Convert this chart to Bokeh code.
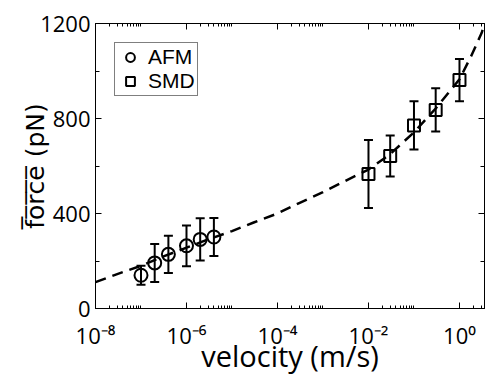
from bokeh.plotting import figure
from bokeh.models import (FixedTicker, LogAxis, LinearAxis, Whisker, TeeHead,
                          ColumnDataSource, Legend, LegendItem,
                          CustomJSTickFormatter)
from bokeh.embed import file_html
from bokeh.resources import INLINE

# ---------------- data ----------------
afm_velocity = [1e-7, 2e-7, 4e-7, 1e-6, 2e-6, 4e-6]
afm_force = [140, 192, 228, 264, 291, 301]
afm_error = [40, 80, 78, 86, 89, 80]

smd_velocity = [1e-2, 3e-2, 1e-1, 3e-1, 1.0]
smd_force = [566, 642, 771, 836, 962]
smd_error = [143, 86, 102, 91, 89]

fit_velocity = [1e-8, 3e-8, 1e-7, 3e-7, 1e-6, 3e-6, 1e-5, 3e-5, 1e-4, 3e-4,
                1e-3, 3e-3, 1e-2, 3e-2, 1e-1, 3e-1, 1.0, 1.8, 3.1, 3.6]
fit_force = [111, 145, 180, 218, 256, 291, 326, 362, 400, 444,
             490, 536, 585, 650, 742, 842, 965, 1062, 1162, 1205]

x_major_ticks = [1e-8, 1e-6, 1e-4, 1e-2, 1.0]
x_tick_labels = ["10\u207b\u2078", "10\u207b\u2076", "10\u207b\u2074",
                 "10\u207b\u00b2", "10\u2070"]
y_major_ticks = [0, 400, 800, 1200]
y_minor_ticks = [200, 600, 1000]

x_minor_ticks = [m * 10.0 ** e for e in (-8, -6, -4, -2) for m in range(2, 11)] + [2.0, 3.0]

FONT = "Open Sans"

p = figure(width=489, height=377, x_axis_type="log",
           x_range=(1e-8, 10 ** 0.55), y_range=(0, 1200),
           output_backend="svg", toolbar_location=None,
           min_border_left=95, min_border_right=5, min_border_top=23,
           min_border_bottom=68)
p.xgrid.visible = False
p.ygrid.visible = False
p.outline_line_color = "black"
p.outline_line_width = 1
p.background_fill_color = "white"
p.border_fill_color = "white"


def style_axis(ax, ticker, minor_len):
    ax.ticker = ticker
    ax.axis_line_color = "black"
    ax.axis_line_width = 1
    ax.major_tick_in = 6
    ax.major_tick_out = 0
    ax.minor_tick_in = minor_len
    ax.minor_tick_out = 0
    ax.major_tick_line_color = "black"
    ax.minor_tick_line_color = "black"
    ax.major_tick_line_width = 1
    ax.minor_tick_line_width = 1


# bottom axis
xa = p.xaxis[0]
style_axis(xa, FixedTicker(ticks=x_major_ticks, minor_ticks=x_minor_ticks), 3)
xa.major_label_overrides = dict(zip(x_major_ticks, x_tick_labels))
xa.major_label_text_font = FONT
xa.major_label_text_font_size = "22px"
xa.major_label_text_color = "black"
xa.major_label_standoff = 11
xa.axis_label = "velocity (m/s)"
xa.axis_label_text_font = FONT
xa.axis_label_text_font_size = "29px"
xa.axis_label_text_font_style = "normal"
xa.axis_label_text_color = "black"
xa.axis_label_standoff = -17

# left axis
ya = p.yaxis[0]
style_axis(ya, FixedTicker(ticks=y_major_ticks, minor_ticks=y_minor_ticks), 4)
ya.major_label_text_font = FONT
ya.major_label_text_font_size = "22px"
ya.major_label_text_color = "black"
ya.major_label_standoff = 5
ya.axis_label = "f\u0305o\u0305r\u0305c\u0305e\u0305 (pN)"
ya.axis_label_text_font = "DejaVu Sans"
ya.axis_label_text_font_size = "25px"
ya.axis_label_text_font_style = "normal"
ya.axis_label_text_color = "black"
ya.axis_label_standoff = -13

# mirrored axes (ticks only)
top = LogAxis()
style_axis(top, FixedTicker(ticks=x_major_ticks, minor_ticks=x_minor_ticks), 3)
top.formatter = CustomJSTickFormatter(code="return ''")
top.major_label_text_font_size = "1px"
top.major_label_standoff = 0
p.add_layout(top, "above")

right = LinearAxis()
style_axis(right, FixedTicker(ticks=y_major_ticks, minor_ticks=y_minor_ticks), 4)
right.formatter = CustomJSTickFormatter(code="return ''")
right.major_label_text_font_size = "1px"
right.major_label_standoff = 0
p.add_layout(right, "right")

# fit curve
p.line(fit_velocity, fit_force, line_color="black", line_width=2.5,
       line_dash="11 7")

# error bars
afm_src = ColumnDataSource(dict(
    x=afm_velocity, y=afm_force,
    lo=[f - e for f, e in zip(afm_force, afm_error)],
    hi=[f + e for f, e in zip(afm_force, afm_error)]))
smd_src = ColumnDataSource(dict(
    x=smd_velocity, y=smd_force,
    lo=[f - e for f, e in zip(smd_force, smd_error)],
    hi=[f + e for f, e in zip(smd_force, smd_error)]))
for src in (afm_src, smd_src):
    p.add_layout(Whisker(source=src, base="x", upper="hi", lower="lo",
                         dimension="height", line_width=2, line_color="black",
                         upper_head=TeeHead(size=9, line_width=2, line_color="black"),
                         lower_head=TeeHead(size=9, line_width=2, line_color="black")))

r_afm = p.scatter("x", "y", source=afm_src, marker="circle", size=13,
                  fill_color=None, line_color="black", line_width=2)
r_smd = p.scatter("x", "y", source=smd_src, marker="square", size=12,
                  fill_color=None, line_color="black", line_width=2)

legend = Legend(items=[LegendItem(label="AFM", renderers=[r_afm]),
                       LegendItem(label="SMD", renderers=[r_smd])],
                location="top_left", orientation="vertical",
                border_line_color="black", border_line_width=1,
                background_fill_color="white", background_fill_alpha=1,
                label_text_font="Liberation Sans", label_text_font_size="21px",
                label_text_line_height=0.95,
                label_text_color="black",
                padding=2, spacing=0, margin=19, glyph_width=26,
                glyph_height=22, label_height=22, label_standoff=5)
p.add_layout(legend)

open("out.html", "w").write(file_html(p, INLINE))
